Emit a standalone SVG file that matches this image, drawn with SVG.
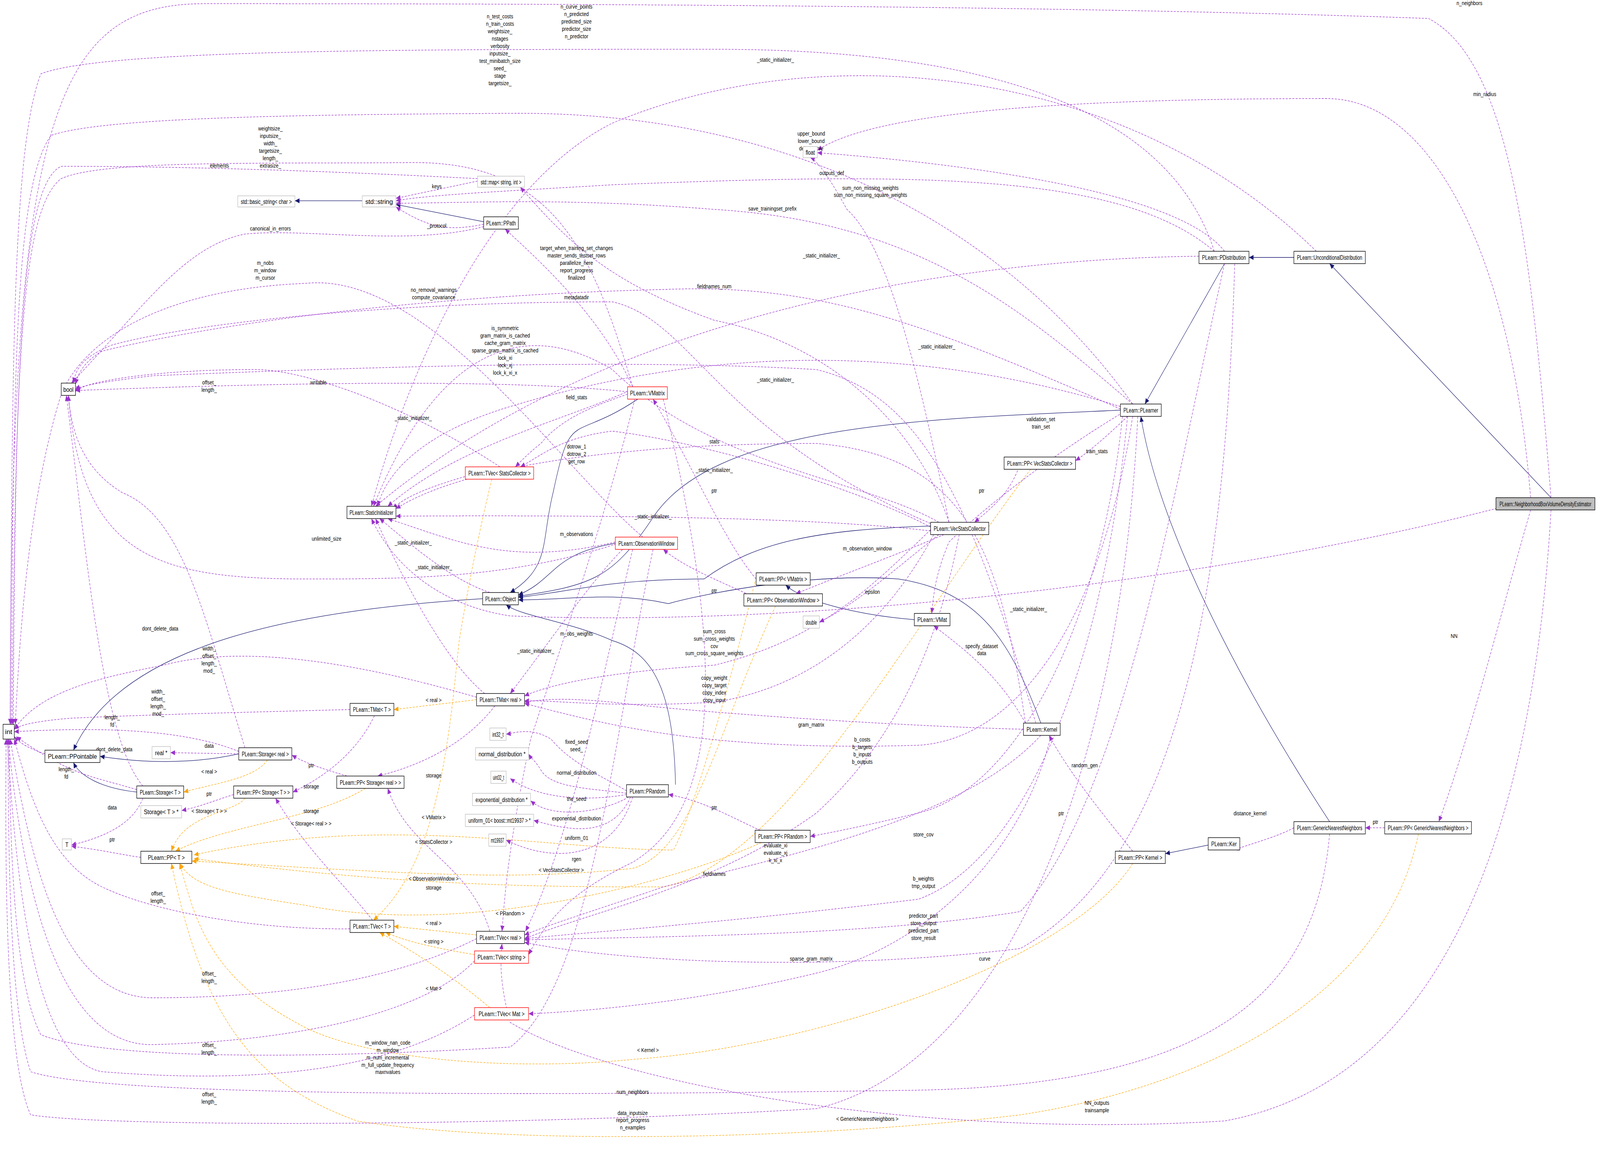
<svg xmlns="http://www.w3.org/2000/svg" width="4944" height="2959" viewBox="0 0 4944 2959" preserveAspectRatio="none">
<style>
:root{width:100vw;height:100vh}
.n rect{fill:#fff;stroke:#000;stroke-width:0.45}
.g rect{stroke:#bfbfbf}
.r rect{stroke:#ff0000}
.hl rect{fill:#bfbfbf}
.n text{font-family:"Liberation Sans",Arial,sans-serif;font-size:5.2px;text-anchor:middle}
.e path{fill:none;stroke-width:0.4}
.p{stroke:#9a32cd;stroke-dasharray:2,1.2;marker-end:url(#ap)}
.b{stroke:#191970;marker-end:url(#ab)}
.o{stroke:#ffa500;stroke-dasharray:2,1.2;marker-end:url(#ao)}
.l text{font-family:"Liberation Sans",Arial,sans-serif;font-size:4.6px;text-anchor:middle;fill:#000}
</style>
<defs>
<marker id="ap" markerUnits="userSpaceOnUse" markerWidth="5" markerHeight="4" refX="4.5" refY="2" orient="auto"><path d="M0,0L4.5,2L0,4z" fill="#9a32cd"/></marker>
<marker id="ab" markerUnits="userSpaceOnUse" markerWidth="5" markerHeight="4" refX="4.5" refY="2" orient="auto"><path d="M0,0L4.5,2L0,4z" fill="#191970"/></marker>
<marker id="ao" markerUnits="userSpaceOnUse" markerWidth="5" markerHeight="4" refX="4.5" refY="2" orient="auto"><path d="M0,0L4.5,2L0,4z" fill="#ffa500"/></marker>
</defs>
<rect width="4944" height="2959" fill="#fff"/>
<g transform="scale(3.1531)">
<g id="connectors" class="e">
<path class="b" d="M355,163L289,163"/>
<path class="b" d="M474,180L388,166"/>
<path class="b" d="M473,486C300,495 120,520 72,609"/>
<path class="b" d="M234,612C180,622 130,618 98,614"/>
<path class="b" d="M134,643C100,640 78,630 72,619"/>
<path class="b" d="M625,324C560,360 560,330 542,400C530,440 540,460 500,481"/>
<path class="b" d="M603,441C540,450 545,470 508,483"/>
<path class="b" d="M912,427C800,430 740,440 690,470C600,470 560,480 508,485"/>
<path class="b" d="M1098,333C900,340 700,345 640,420C600,470 580,475 508,484"/>
<path class="b" d="M662,637C660,560 640,530 600,520C560,505 510,500 496,491"/>
<path class="b" d="M1020,587C990,520 960,480 880,470C800,465 700,480 655,490C600,480 560,487 508,487"/>
<path class="b" d="M1268,209L1224,209"/>
<path class="b" d="M1200,214L1122,328"/>
<path class="b" d="M1520,404L1303,214"/>
<path class="b" d="M1303,667C1250,600 1140,450 1118,338"/>
<path class="b" d="M1184,686L1142,693"/>
<path class="b" d="M896,503C850,500 790,490 770,475"/>
<path class="o" d="M467,568L386,576"/>
<path class="o" d="M262,617C250,632 210,636 180,643"/>
<path class="o" d="M467,759L386,752"/>
<path class="o" d="M465,775C430,770 400,765 378,757"/>
<path class="o" d="M480,818C440,790 400,770 372,757"/>
<path class="o" d="M482,389C470,430 460,470 450,520C440,600 430,700 366,747"/>
<path class="o" d="M240,648C230,660 180,660 168,691"/>
<path class="o" d="M358,640C310,665 220,670 172,691"/>
<path class="o" d="M740,472C720,540 680,660 660,690C540,690 380,660 190,694"/>
<path class="o" d="M1010,381C900,500 770,700 650,720C540,720 400,720 190,697"/>
<path class="o" d="M760,492C700,600 680,690 620,705C500,715 420,710 188,699"/>
<path class="o" d="M746,684C650,720 450,760 300,735C220,725 190,720 176,701"/>
<path class="o" d="M1110,701C1050,780 800,850 620,860C500,870 350,860 290,830C200,790 190,740 176,701"/>
<path class="o" d="M1390,677C1360,800 1200,880 1000,905C800,925 500,930 350,910C250,880 200,830 168,701"/>
<path class="p" d="M44,612C30,608 20,604 14,598"/>
<path class="p" d="M234,610C180,592 100,590 14,594"/>
<path class="p" d="M134,641C90,630 70,630 16,598"/>
<path class="p" d="M467,566C380,545 250,520 160,540C100,550 40,560 14,592"/>
<path class="p" d="M343,576C250,578 150,580 70,583C40,585 20,588 14,592"/>
<path class="p" d="M343,754C250,755 150,740 100,720C50,700 30,650 14,600"/>
<path class="p" d="M467,762C400,790 300,810 150,810C60,810 30,700 10,600"/>
<path class="p" d="M465,780C420,820 300,845 150,848C50,850 20,700 8,600"/>
<path class="p" d="M465,824C380,870 250,880 100,870C30,860 15,700 7,600"/>
<path class="p" d="M1520,404C1500,200 1480,50 1400,15C1000,3 400,3 200,3C50,3 10,100 10,588"/>
<path class="p" d="M1303,677C1290,800 1200,880 900,885C500,890 100,890 30,870C10,820 8,700 8,600"/>
<path class="p" d="M1115,338C1100,600 1000,860 800,900C500,915 100,915 30,905C5,860 5,700 6,600"/>
<path class="p" d="M640,446C600,600 580,800 500,850C300,860 100,860 40,840C15,800 10,700 9,600"/>
<path class="p" d="M620,314C580,200 540,130 400,132C250,133 100,130 60,145C20,170 15,300 12,588"/>
<path class="p" d="M1110,328C1000,200 800,90 500,92C300,93 100,95 50,110C15,150 13,300 11,588"/>
<path class="p" d="M1190,204C1150,100 1000,40 700,40C400,40 100,40 40,60C12,120 12,300 10,588"/>
<path class="p" d="M468,145C350,140 200,135 60,135C20,150 15,300 13,588"/>
<path class="p" d="M630,436C550,380 420,220 300,230C150,235 80,280 60,320C30,400 20,500 15,588"/>
<path class="p" d="M474,184C400,200 300,185 240,190C180,200 140,250 70,311"/>
<path class="p" d="M912,425C700,350 680,260 600,245C400,245 200,260 110,280C80,290 74,300 72,311"/>
<path class="p" d="M1098,332C900,260 800,230 650,235C400,240 200,265 100,285C80,295 76,305 74,312"/>
<path class="p" d="M1015,587C950,400 900,320 800,300C600,290 300,300 150,305C100,310 80,313 74,316"/>
<path class="p" d="M490,379C400,330 300,300 250,300C150,300 80,310 74,318"/>
<path class="p" d="M615,318C500,308 300,310 74,317"/>
<path class="p" d="M240,607C200,500 180,420 120,400C80,380 70,350 67,321"/>
<path class="p" d="M140,638C100,600 85,450 65,321"/>
<path class="p" d="M610,440C500,470 400,470 300,470C150,470 80,450 67,321"/>
<path class="p" d="M468,147L388,161"/>
<path class="p" d="M474,182C440,188 420,185 388,168"/>
<path class="p" d="M1190,204C1100,140 900,140 600,150C500,155 420,158 388,163"/>
<path class="p" d="M1110,328C1000,250 900,180 700,170C550,160 450,165 388,165"/>
<path class="p" d="M1200,204C1150,150 900,130 801,124"/>
<path class="p" d="M1500,404C1480,200 1400,80 1300,80C1000,80 850,95 801,122"/>
<path class="p" d="M930,424C900,300 870,200 830,170C810,140 800,130 794,128"/>
<path class="p" d="M930,424C900,350 820,280 700,260C600,230 560,200 510,152"/>
<path class="p" d="M620,314C590,260 540,220 495,186"/>
<path class="p" d="M615,320C580,330 550,340 530,360C515,370 510,375 505,379"/>
<path class="p" d="M912,428C850,400 700,360 600,350C550,355 530,370 510,379"/>
<path class="p" d="M622,324C600,400 560,500 520,600C500,680 495,720 492,756"/>
<path class="p" d="M741,470C710,440 680,380 640,324"/>
<path class="p" d="M740,485C700,470 670,460 650,446"/>
<path class="p" d="M925,434C880,450 830,465 780,482"/>
<path class="p" d="M1000,376C990,400 975,410 955,424"/>
<path class="p" d="M1105,338C1090,350 1070,365 1054,374"/>
<path class="p" d="M1100,335C1050,360 980,400 930,440C915,470 915,485 913,498"/>
<path class="p" d="M920,434C880,460 840,490 803,505"/>
<path class="p" d="M615,442C580,470 540,520 500,563"/>
<path class="p" d="M620,446C590,550 560,680 515,756"/>
<path class="p" d="M912,430C850,480 800,520 700,540C600,545 540,555 514,565"/>
<path class="p" d="M915,434C860,520 780,560 700,570C600,575 540,568 514,569"/>
<path class="p" d="M1003,592C900,590 700,580 600,570C550,566 530,568 514,570"/>
<path class="p" d="M1005,587C980,550 950,530 915,508"/>
<path class="p" d="M485,573C460,600 420,620 370,630"/>
<path class="p" d="M367,581C350,610 320,630 287,643"/>
<path class="p" d="M480,756C460,700 400,690 380,640"/>
<path class="p" d="M365,747C340,720 300,690 270,648"/>
<path class="p" d="M340,630C320,625 300,620 286,613"/>
<path class="p" d="M234,612L167,611"/>
<path class="p" d="M229,645C210,650 195,655 178,658"/>
<path class="p" d="M140,648C130,670 100,680 70,686"/>
<path class="p" d="M138,696C120,694 100,690 70,687"/>
<path class="p" d="M614,642C590,630 560,620 540,600C520,590 505,595 496,596"/>
<path class="p" d="M614,644C580,640 540,640 530,625C525,618 520,615 518,612"/>
<path class="p" d="M614,645C580,650 530,650 500,632"/>
<path class="p" d="M616,647C590,660 540,665 520,650"/>
<path class="p" d="M618,647C600,680 560,675 523,666"/>
<path class="p" d="M620,647C600,700 540,700 496,682"/>
<path class="p" d="M745,674C720,665 690,650 655,645"/>
<path class="p" d="M1100,338C1080,500 1000,640 900,660C850,670 820,675 794,679"/>
<path class="p" d="M1110,338C1080,500 1000,600 900,605C700,610 600,590 514,571"/>
<path class="p" d="M1020,597C950,660 800,690 650,720C580,740 540,750 514,759"/>
<path class="p" d="M650,324C700,500 720,650 620,700C570,720 540,740 518,775"/>
<path class="p" d="M940,434C920,520 880,600 800,660C700,720 580,740 514,762"/>
<path class="p" d="M1105,338C1080,550 1000,700 900,730C700,750 600,755 514,762"/>
<path class="p" d="M1200,214C1150,400 1100,650 1000,740C850,760 650,760 514,763"/>
<path class="p" d="M1030,597C1000,700 900,770 800,790C700,810 600,820 518,823"/>
<path class="p" d="M1210,214C1200,500 1150,700 1000,770C800,790 600,780 514,765"/>
<path class="p" d="M1110,691C1080,660 1050,630 1028,597"/>
<path class="p" d="M1268,672C1250,680 1225,685 1210,690"/>
<path class="p" d="M1357,672L1338,672"/>
<path class="p" d="M1500,414C1470,500 1440,600 1410,667"/>
<path class="p" d="M1520,414C1500,700 1400,880 1200,910C900,925 600,880 500,830C490,800 490,780 492,766"/>
<path class="p" d="M1290,204C1100,50 800,30 600,100C480,150 400,300 364,411"/>
<path class="p" d="M1175,208C950,210 600,250 368,411"/>
<path class="p" d="M1098,330C900,280 700,280 500,330C420,350 380,380 370,411"/>
<path class="p" d="M1005,587C980,450 950,370 800,360C600,360 450,380 388,413"/>
<path class="p" d="M920,424C850,390 700,380 600,300C500,250 420,300 366,411"/>
<path class="p" d="M625,314C560,340 450,360 380,411"/>
<path class="p" d="M912,431C800,420 600,418 388,419"/>
<path class="p" d="M603,440C500,460 450,440 380,421"/>
<path class="p" d="M490,379C440,390 400,400 385,413"/>
<path class="p" d="M480,481C440,470 400,440 372,421"/>
<path class="p" d="M475,563C440,540 400,480 368,421"/>
<path class="p" d="M1470,412C1200,470 800,510 500,500C420,490 380,450 364,421"/>
</g>
<g class="l">
<text x="60" y="619">rrefcount</text>
<text x="110" y="584">length_</text><text x="110" y="590">fd</text>
<text x="65" y="626">length_</text><text x="65" y="632">fd</text>
<text x="205" y="528">width_</text><text x="205" y="534">offset_</text><text x="205" y="540">length_</text><text x="205" y="546">mod_</text>
<text x="155" y="563">width_</text><text x="155" y="569">offset_</text><text x="155" y="575">length_</text><text x="155" y="581">mod_</text>
<text x="155" y="727">offset_</text><text x="155" y="733">length_</text>
<text x="205" y="792">offset_</text><text x="205" y="798">length_</text>
<text x="205" y="850">offset_</text><text x="205" y="856">length_</text>
<text x="205" y="890">offset_</text><text x="205" y="896">length_</text>
<text x="1440" y="4">n_neighbors</text>
<text x="620" y="888">num_neighbors</text>
<text x="620" y="905">data_inputsize</text><text x="620" y="911">report_progress</text><text x="620" y="917">n_examples</text>
<text x="380" y="848">m_window_nan_code</text><text x="380" y="854">m_window</text><text x="380" y="860">m_num_incremental</text><text x="380" y="866">m_full_update_frequency</text><text x="380" y="872">maxnvalues</text>
<text x="265" y="106">weightsize_</text><text x="265" y="112">inputsize_</text><text x="265" y="118">width_</text><text x="265" y="124">targetsize_</text><text x="265" y="130">length_</text><text x="265" y="136">extrasize_</text>
<text x="490" y="15">n_test_costs</text><text x="490" y="21">n_train_costs</text><text x="490" y="27">weightsize_</text><text x="490" y="33">nstages</text><text x="490" y="39">verbosity</text><text x="490" y="45">inputsize_</text><text x="490" y="51">test_minibatch_size</text><text x="490" y="57">seed_</text><text x="490" y="63">stage</text><text x="490" y="69">targetsize_</text>
<text x="565" y="7">n_curve_points</text><text x="565" y="13">n_predicted</text><text x="565" y="19">predicted_size</text><text x="565" y="25">predictor_size</text><text x="565" y="31">n_predictor</text>
<text x="215" y="136">elements</text>
<text x="265" y="187">canonical_in_errors</text>
<text x="260" y="215">m_nobs</text><text x="260" y="221">m_window</text><text x="260" y="227">m_cursor</text>
<text x="425" y="237">no_removal_warnings</text><text x="425" y="243">compute_covariance</text>
<text x="565" y="203">target_when_training_set_changes</text><text x="565" y="209">master_sends_testset_rows</text><text x="565" y="215">parallelize_here</text><text x="565" y="221">report_progress</text><text x="565" y="227">finalized</text>
<text x="495" y="268">is_symmetric</text><text x="495" y="274">gram_matrix_is_cached</text><text x="495" y="280">cache_gram_matrix</text><text x="495" y="286">sparse_gram_matrix_is_cached</text><text x="495" y="292">lock_xi</text><text x="495" y="298">lock_xj</text><text x="495" y="304">lock_k_xi_x</text>
<text x="205" y="312">offset_</text><text x="205" y="318">length_</text>
<text x="312" y="312">writable</text>
<text x="157" y="512">dont_delete_data</text>
<text x="112" y="610">dont_delete_data</text>
<text x="428" y="153">keys</text>
<text x="428" y="185">_protocol</text>
<text x="815" y="142">outputs_def</text>
<text x="757" y="171">save_trainingset_prefix</text>
<text x="853" y="154">sum_non_missing_weights</text><text x="853" y="160">sum_non_missing_square_weights</text>
<text x="795" y="110">upper_bound</text><text x="795" y="116">lower_bound</text><text x="795" y="122">delta_curve</text>
<text x="1455" y="78">min_radius</text>
<text x="700" y="234">fieldnames_num</text>
<text x="565" y="243">metadatadir</text>
<text x="565" y="324">field_stats</text>
<text x="700" y="360">stats</text>
<text x="565" y="364">dotrow_1</text><text x="565" y="370">dotrow_2</text><text x="565" y="376">get_row</text>
<text x="700" y="400">ptr</text>
<text x="700" y="481">ptr</text>
<text x="850" y="447">m_observation_window</text>
<text x="962" y="400">ptr</text>
<text x="1075" y="368">train_stats</text>
<text x="1020" y="342">validation_set</text><text x="1020" y="348">train_set</text>
<text x="855" y="482">epsilon</text>
<text x="565" y="435">m_observations</text>
<text x="565" y="516">m_obs_weights</text>
<text x="700" y="514">sum_cross</text><text x="700" y="520">sum_cross_weights</text><text x="700" y="526">cov</text><text x="700" y="532">sum_cross_square_weights</text>
<text x="700" y="552">copy_weight</text><text x="700" y="558">copy_target</text><text x="700" y="564">copy_index</text><text x="700" y="570">copy_input</text>
<text x="795" y="590">gram_matrix</text>
<text x="962" y="526">specify_dataset</text><text x="962" y="532">data</text>
<text x="425" y="631">storage</text>
<text x="305" y="660">storage</text>
<text x="305" y="623">ptr</text>
<text x="305" y="640">storage</text>
<text x="425" y="722">storage</text>
<text x="205" y="607">data</text>
<text x="205" y="646">ptr</text>
<text x="110" y="657">data</text>
<text x="110" y="683">ptr</text>
<text x="565" y="604">fixed_seed</text><text x="565" y="610">seed_</text>
<text x="565" y="629">normal_distribution</text>
<text x="565" y="650">the_seed</text>
<text x="565" y="666">exponential_distribution</text>
<text x="565" y="682">uniform_01</text>
<text x="565" y="699">rgen</text>
<text x="700" y="657">ptr</text>
<text x="1063" y="623">random_gen</text>
<text x="845" y="602">b_costs</text><text x="845" y="608">b_targets</text><text x="845" y="614">b_inputs</text><text x="845" y="620">b_outputs</text>
<text x="760" y="688">evaluate_xi</text><text x="760" y="694">evaluate_xj</text><text x="760" y="700">k_xi_x</text>
<text x="700" y="711">fieldnames</text>
<text x="905" y="679">store_cov</text>
<text x="905" y="715">b_weights</text><text x="905" y="721">tmp_output</text>
<text x="905" y="745">predictor_part</text><text x="905" y="751">store_output</text><text x="905" y="757">predicted_part</text><text x="905" y="763">store_result</text>
<text x="795" y="780">sparse_gram_matrix</text>
<text x="965" y="780">curve</text>
<text x="1040" y="662">ptr</text>
<text x="1225" y="662">distance_kernel</text>
<text x="1348" y="669">ptr</text>
<text x="1425" y="518">NN</text>
<text x="1075" y="897">NN_outputs</text><text x="1075" y="903">trainsample</text>
<text x="760" y="50">_static_initializer_</text>
<text x="805" y="209">_static_initializer_</text>
<text x="918" y="283">_static_initializer_</text>
<text x="760" y="310">_static_initializer_</text>
<text x="405" y="341">_static_initializer_</text>
<text x="700" y="383">_static_initializer_</text>
<text x="640" y="421">_static_initializer_</text>
<text x="405" y="442">_static_initializer_</text>
<text x="425" y="462">_static_initializer_</text>
<text x="525" y="530">_static_initializer_</text>
<text x="1008" y="496">_static_initializer_</text>
<text x="320" y="439">unlimited_size</text>
<text x="425" y="570">&lt; real &gt;</text>
<text x="205" y="628">&lt; real &gt;</text>
<text x="425" y="751">&lt; real &gt;</text>
<text x="425" y="766">&lt; string &gt;</text>
<text x="425" y="804">&lt; Mat &gt;</text>
<text x="205" y="660">&lt; Storage&lt; T &gt; &gt;</text>
<text x="305" y="670">&lt; Storage&lt; real &gt; &gt;</text>
<text x="425" y="665">&lt; VMatrix &gt;</text>
<text x="425" y="685">&lt; StatsCollector &gt;</text>
<text x="550" y="708">&lt; VecStatsCollector &gt;</text>
<text x="425" y="715">&lt; ObservationWindow &gt;</text>
<text x="500" y="743">&lt; PRandom &gt;</text>
<text x="635" y="854">&lt; Kernel &gt;</text>
<text x="850" y="910">&lt; GenericNearestNeighbors &gt;</text>
</g>
<g id="int" class="n"><rect x="3" y="588" width="11" height="12"/><text x="8.5" y="596" textLength="7" lengthAdjust="spacingAndGlyphs">int</text></g>
<g id="bool" class="n"><rect x="60" y="311" width="14" height="10"/><text x="67" y="318" textLength="10" lengthAdjust="spacingAndGlyphs">bool</text></g>
<g id="PPointable" class="n"><rect x="44" y="609" width="54" height="10"/><text x="71" y="616" textLength="48" lengthAdjust="spacingAndGlyphs">PLearn::PPointable</text></g>
<g id="basic_string" class="n g"><rect x="233" y="159" width="56" height="9"/><text x="261" y="165.6" textLength="50" lengthAdjust="spacingAndGlyphs">std::basic_string&lt; char &gt;</text></g>
<g id="string" class="n g"><rect x="355" y="159" width="33" height="9"/><text x="371.5" y="165.6" textLength="27" lengthAdjust="spacingAndGlyphs">std::string</text></g>
<g id="map" class="n g"><rect x="468" y="143" width="46" height="9"/><text x="491" y="149.6" textLength="40" lengthAdjust="spacingAndGlyphs">std::map&lt; string, int &gt;</text></g>
<g id="float" class="n g"><rect x="787" y="119" width="14" height="9"/><text x="794" y="125.6" textLength="9" lengthAdjust="spacingAndGlyphs">float</text></g>
<g id="PPath" class="n"><rect x="474" y="176" width="34" height="10"/><text x="491" y="183" textLength="29" lengthAdjust="spacingAndGlyphs">PLearn::PPath</text></g>
<g id="VMatrix" class="n r"><rect x="615" y="314" width="39" height="10"/><text x="634.5" y="321" textLength="34" lengthAdjust="spacingAndGlyphs">PLearn::VMatrix</text></g>
<g id="TVecStats" class="n r"><rect x="456" y="379" width="67" height="10"/><text x="489.5" y="386" textLength="61" lengthAdjust="spacingAndGlyphs">PLearn::TVec&lt; StatsCollector &gt;</text></g>
<g id="StaticInitializer" class="n"><rect x="340" y="411" width="48" height="10"/><text x="364" y="418" textLength="43" lengthAdjust="spacingAndGlyphs">PLearn::StaticInitializer</text></g>
<g id="ObservationWindow" class="n r"><rect x="603" y="436" width="61" height="10"/><text x="633.5" y="443" textLength="55" lengthAdjust="spacingAndGlyphs">PLearn::ObservationWindow</text></g>
<g id="Object" class="n"><rect x="473" y="481" width="35" height="10"/><text x="490.5" y="488" textLength="30" lengthAdjust="spacingAndGlyphs">PLearn::Object</text></g>
<g id="TMatReal" class="n"><rect x="467" y="563" width="47" height="10"/><text x="490.5" y="570" textLength="41" lengthAdjust="spacingAndGlyphs">PLearn::TMat&lt; real &gt;</text></g>
<g id="TMatT" class="n"><rect x="343" y="571" width="43" height="10"/><text x="364.5" y="578" textLength="37" lengthAdjust="spacingAndGlyphs">PLearn::TMat&lt; T &gt;</text></g>
<g id="StorageReal" class="n"><rect x="234" y="607" width="52" height="10"/><text x="260" y="614" textLength="46" lengthAdjust="spacingAndGlyphs">PLearn::Storage&lt; real &gt;</text></g>
<g id="realptr" class="n g"><rect x="149" y="606" width="18" height="10"/><text x="158" y="613" textLength="12" lengthAdjust="spacingAndGlyphs">real *</text></g>
<g id="StorageT" class="n"><rect x="134" y="638" width="46" height="10"/><text x="157" y="645" textLength="40" lengthAdjust="spacingAndGlyphs">PLearn::Storage&lt; T &gt;</text></g>
<g id="StorageTptr" class="n g"><rect x="138" y="654" width="40" height="10"/><text x="158" y="661" textLength="34" lengthAdjust="spacingAndGlyphs">Storage&lt; T &gt; *</text></g>
<g id="PPStorageT" class="n"><rect x="229" y="638" width="58" height="10"/><text x="258" y="645" textLength="52" lengthAdjust="spacingAndGlyphs">PLearn::PP&lt; Storage&lt; T &gt; &gt;</text></g>
<g id="PPStorageReal" class="n"><rect x="330" y="630" width="66" height="10"/><text x="363" y="637" textLength="60" lengthAdjust="spacingAndGlyphs">PLearn::PP&lt; Storage&lt; real &gt; &gt;</text></g>
<g id="T" class="n g"><rect x="61" y="681" width="9" height="9"/><text x="65.5" y="687.6" textLength="3" lengthAdjust="spacingAndGlyphs">T</text></g>
<g id="PPT" class="n"><rect x="138" y="691" width="50" height="10"/><text x="163" y="698" textLength="36" lengthAdjust="spacingAndGlyphs">PLearn::PP&lt; T &gt;</text></g>
<g id="int32" class="n g"><rect x="480" y="591" width="16" height="10"/><text x="488" y="598" textLength="11" lengthAdjust="spacingAndGlyphs">int32_t</text></g>
<g id="normal" class="n g"><rect x="466" y="607" width="52" height="10"/><text x="492" y="614" textLength="46" lengthAdjust="spacingAndGlyphs">normal_distribution *</text></g>
<g id="uint32" class="n g"><rect x="481" y="626" width="15" height="10"/><text x="488.5" y="633" textLength="11" lengthAdjust="spacingAndGlyphs">uint32_t</text></g>
<g id="exponential" class="n g"><rect x="463" y="644" width="57" height="10"/><text x="491.5" y="651" textLength="51" lengthAdjust="spacingAndGlyphs">exponential_distribution *</text></g>
<g id="uniform" class="n g"><rect x="456" y="661" width="67" height="10"/><text x="489.5" y="668" textLength="61" lengthAdjust="spacingAndGlyphs">uniform_01&lt; boost::mt19937 &gt; *</text></g>
<g id="mt19937" class="n g"><rect x="479" y="677" width="17" height="10"/><text x="487.5" y="684" textLength="13" lengthAdjust="spacingAndGlyphs">mt19937</text></g>
<g id="PRandom" class="n"><rect x="614" y="637" width="41" height="10"/><text x="634.5" y="644" textLength="35" lengthAdjust="spacingAndGlyphs">PLearn::PRandom</text></g>
<g id="TVecT" class="n"><rect x="343" y="747" width="43" height="10"/><text x="364.5" y="754" textLength="37" lengthAdjust="spacingAndGlyphs">PLearn::TVec&lt; T &gt;</text></g>
<g id="TVecReal" class="n"><rect x="467" y="756" width="47" height="10"/><text x="490.5" y="763" textLength="41" lengthAdjust="spacingAndGlyphs">PLearn::TVec&lt; real &gt;</text></g>
<g id="TVecString" class="n r"><rect x="465" y="772" width="53" height="10"/><text x="491.5" y="779" textLength="47" lengthAdjust="spacingAndGlyphs">PLearn::TVec&lt; string &gt;</text></g>
<g id="TVecMat" class="n r"><rect x="465" y="818" width="53" height="10"/><text x="491.5" y="825" textLength="45" lengthAdjust="spacingAndGlyphs">PLearn::TVec&lt; Mat &gt;</text></g>
<g id="PDistribution" class="n"><rect x="1175" y="204" width="49" height="10"/><text x="1199.5" y="211" textLength="43" lengthAdjust="spacingAndGlyphs">PLearn::PDistribution</text></g>
<g id="UnconditionalDistribution" class="n"><rect x="1268" y="204" width="70" height="10"/><text x="1303" y="211" textLength="64" lengthAdjust="spacingAndGlyphs">PLearn::UnconditionalDistribution</text></g>
<g id="PLearner" class="n"><rect x="1098" y="328" width="40" height="10"/><text x="1118" y="335" textLength="34" lengthAdjust="spacingAndGlyphs">PLearn::PLearner</text></g>
<g id="PPVecStats" class="n"><rect x="984" y="371" width="70" height="10"/><text x="1019" y="378" textLength="64" lengthAdjust="spacingAndGlyphs">PLearn::PP&lt; VecStatsCollector &gt;</text></g>
<g id="VecStatsCollector" class="n"><rect x="912" y="424" width="57" height="10"/><text x="940.5" y="431" textLength="51" lengthAdjust="spacingAndGlyphs">PLearn::VecStatsCollector</text></g>
<g id="PPVMatrix" class="n"><rect x="741" y="465" width="53" height="10"/><text x="767.5" y="472" textLength="47" lengthAdjust="spacingAndGlyphs">PLearn::PP&lt; VMatrix &gt;</text></g>
<g id="PPObsWin" class="n"><rect x="729" y="482" width="77" height="10"/><text x="767.5" y="489" textLength="71" lengthAdjust="spacingAndGlyphs">PLearn::PP&lt; ObservationWindow &gt;</text></g>
<g id="double" class="n g"><rect x="787" y="500" width="16" height="10"/><text x="795" y="507" textLength="11" lengthAdjust="spacingAndGlyphs">double</text></g>
<g id="VMat" class="n"><rect x="896" y="498" width="35" height="10"/><text x="913.5" y="505" textLength="29" lengthAdjust="spacingAndGlyphs">PLearn::VMat</text></g>
<g id="Kernel" class="n"><rect x="1003" y="587" width="36" height="10"/><text x="1021" y="594" textLength="30" lengthAdjust="spacingAndGlyphs">PLearn::Kernel</text></g>
<g id="PPPRandom" class="n"><rect x="740" y="674" width="54" height="10"/><text x="767" y="681" textLength="48" lengthAdjust="spacingAndGlyphs">PLearn::PP&lt; PRandom &gt;</text></g>
<g id="Ker" class="n"><rect x="1184" y="680" width="31" height="10"/><text x="1199.5" y="687" textLength="25" lengthAdjust="spacingAndGlyphs">PLearn::Ker</text></g>
<g id="PPKernel" class="n"><rect x="1093" y="691" width="49" height="10"/><text x="1117.5" y="698" textLength="43" lengthAdjust="spacingAndGlyphs">PLearn::PP&lt; Kernel &gt;</text></g>
<g id="GenericNearestNeighbors" class="n"><rect x="1268" y="667" width="70" height="10"/><text x="1303" y="674" textLength="64" lengthAdjust="spacingAndGlyphs">PLearn::GenericNearestNeighbors</text></g>
<g id="PPGNN" class="n"><rect x="1357" y="667" width="85" height="10"/><text x="1399.5" y="674" textLength="79" lengthAdjust="spacingAndGlyphs">PLearn::PP&lt; GenericNearestNeighbors &gt;</text></g>
<g id="NeighborhoodBoxVolumeDensityEstimator" class="n hl"><rect x="1466" y="404" width="97" height="10"/><text x="1514.5" y="411" textLength="90" lengthAdjust="spacingAndGlyphs">PLearn::NeighborhoodBoxVolumeDensityEstimator</text></g>
</g>
</svg>
